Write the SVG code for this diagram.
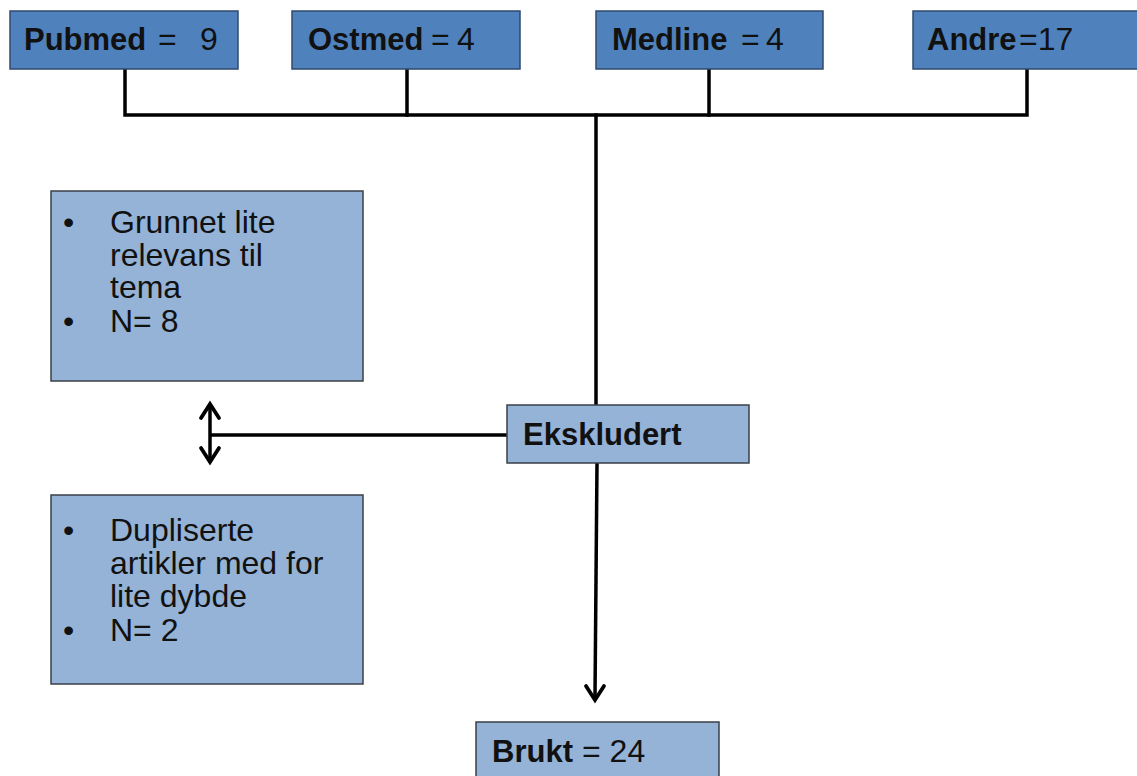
<svg xmlns="http://www.w3.org/2000/svg" width="1137" height="776" viewBox="0 0 1137 776">
<defs>
<style>
.dark{fill:#4F81BD;stroke:#2E4A6E;stroke-width:1.5}
.light{fill:#95B3D7;stroke:#3A3F48;stroke-width:1.5}
.b{font-family:"Liberation Sans",Arial,sans-serif;font-weight:bold;font-size:31px;fill:#111}
.r{font-family:"Liberation Sans",Arial,sans-serif;font-weight:normal;font-size:32px;fill:#111}
.t{font-family:"Liberation Sans",Arial,sans-serif;font-size:32px;fill:#111}
.ln{fill:none;stroke:#000;stroke-width:3.5;stroke-linecap:square;stroke-linejoin:miter}
.hd{fill:none;stroke:#000;stroke-width:3.8;stroke-linecap:round;stroke-linejoin:miter}
</style>
</defs>
<rect width="1137" height="776" fill="#fff"/>
<g id="connectors">
<path class="ln" d="M125,69 V115 H1027 V69"/>
<path class="ln" d="M407,69 V115"/>
<path class="ln" d="M709,69 V115"/>
<path class="ln" d="M596,115 V405"/>
<path class="ln" d="M507,435 H210" style="stroke-linecap:butt"/>
<path class="ln" d="M210,406 V460" style="stroke-linecap:butt"/>
<path class="hd" d="M201,418 L210,404 L219,418"/>
<path class="hd" d="M201,448 L210,462 L219,448"/>
<path class="ln" d="M597,463 L595,697" style="stroke-linecap:butt"/>
<path class="hd" d="M586,686 L595,700 L604,686"/>
</g>
<g id="pubmed">
<rect class="dark" x="10" y="11" width="228" height="58"/>
<text class="b" x="24" y="50">Pubmed<tspan class="r" x="158">=</tspan><tspan class="r" x="200">9</tspan></text>
</g>
<g id="ostmed">
<rect class="dark" x="292" y="11" width="228" height="58"/>
<text class="b" x="308" y="50">Ostmed<tspan class="r" x="431">=</tspan><tspan class="r" x="457">4</tspan></text>
</g>
<g id="medline">
<rect class="dark" x="596" y="11" width="227" height="58"/>
<text class="b" x="612" y="50">Medline<tspan class="r" x="741">=</tspan><tspan class="r" x="766">4</tspan></text>
</g>
<g id="andre">
<rect class="dark" x="913" y="11" width="230" height="58"/>
<text class="b" x="927" y="50">Andre<tspan class="r" x="1019">=17</tspan></text>
</g>
<g id="grunnet">
<rect class="light" x="51" y="191" width="312" height="190"/>
<text class="t" x="63" y="233">•</text>
<text class="t" x="110" y="233">Grunnet lite</text>
<text class="t" x="110" y="266">relevans til</text>
<text class="t" x="110" y="298">tema</text>
<text class="t" x="63" y="332">•</text>
<text class="t" x="110" y="332">N= 8</text>
</g>
<g id="dupliserte">
<rect class="light" x="51" y="495" width="312" height="189"/>
<text class="t" x="63" y="541">•</text>
<text class="t" x="110" y="541">Dupliserte</text>
<text class="t" x="110" y="574">artikler med for</text>
<text class="t" x="110" y="607">lite dybde</text>
<text class="t" x="63" y="641">•</text>
<text class="t" x="110" y="641">N= 2</text>
</g>
<g id="ekskludert">
<rect class="light" x="507" y="405" width="242" height="58"/>
<text class="b" x="523" y="445">Ekskludert</text>
</g>
<g id="brukt">
<rect class="light" x="476" y="722" width="243" height="60"/>
<text class="b" x="492" y="762">Brukt<tspan class="r" x="582">= 24</tspan></text>
</g>
</svg>
